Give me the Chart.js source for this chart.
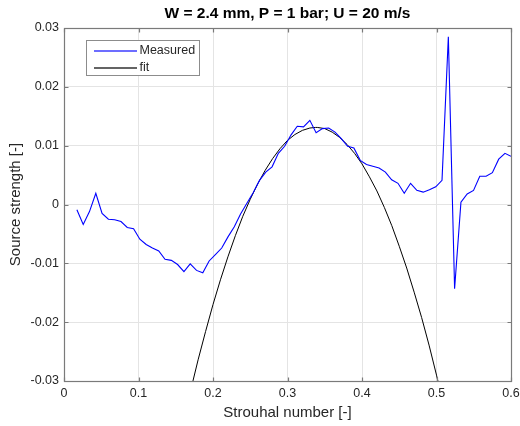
<!DOCTYPE html>
<html>
<head>
<meta charset="utf-8">
<script src="https://cdn.jsdelivr.net/npm/chart.js@4.4.1/dist/chart.umd.min.js"></script>
<style>
  html, body { margin: 0; padding: 0; background: #ffffff; }
  #wrap { width: 520px; height: 426px; }
</style>
</head>
<body>
<div id="wrap"><canvas id="c" width="520" height="426"></canvas></div>
<script>
// Measured source strength vs Strouhal number
const strouhal = [
  0.0173, 0.0258, 0.0342, 0.0427, 0.0511, 0.0596, 0.0680, 0.0765, 0.0849, 0.0934,
  0.1018, 0.1103, 0.1187, 0.1272, 0.1356, 0.1441, 0.1525, 0.1610, 0.1694, 0.1779,
  0.1863, 0.1948, 0.2032, 0.2117, 0.2201, 0.2286, 0.2370, 0.2455, 0.2539, 0.2624,
  0.2708, 0.2793, 0.2877, 0.2962, 0.3046, 0.3131, 0.3215, 0.3300, 0.3384, 0.3469,
  0.3553, 0.3638, 0.3722, 0.3807, 0.3891, 0.3976, 0.4060, 0.4145, 0.4229, 0.4314,
  0.4398, 0.4483, 0.4567, 0.4652, 0.4736, 0.4821, 0.4905, 0.4990, 0.5074, 0.5159,
  0.5243, 0.5328, 0.5412, 0.5497, 0.5581, 0.5666, 0.5750, 0.5835, 0.5919, 0.6000
];
const measured = [
  -0.0009, -0.0034, -0.0012, 0.0019, -0.0015, -0.0025, -0.0026, -0.0029, -0.0039, -0.0041,
  -0.0059, -0.0068, -0.0074, -0.0079, -0.0093, -0.0095, -0.0102, -0.0114, -0.0101, -0.0112,
  -0.0116, -0.0096, -0.0085, -0.0074, -0.0055, -0.0038, -0.0016, 0.0002, 0.0020, 0.0041,
  0.0055, 0.0064, 0.0087, 0.0099, 0.0118, 0.0133, 0.0132, 0.0143, 0.0122, 0.0129,
  0.0130, 0.0123, 0.0112, 0.0099, 0.0096, 0.0075, 0.0068, 0.0065, 0.0062, 0.0055,
  0.0042, 0.0036, 0.0019, 0.0036, 0.0024, 0.0021, 0.0025, 0.0030, 0.0041, 0.0285,
  -0.0143, 0.0004, 0.0018, 0.0024, 0.0048, 0.0048, 0.0054, 0.0077, 0.0087, 0.0082
];

// Parabolic fit, sampled
const fitX = [
  0.17, 0.18, 0.19, 0.20, 0.21, 0.22, 0.23, 0.24, 0.25, 0.26, 0.27, 0.28, 0.29,
  0.30, 0.31, 0.32, 0.33, 0.3375, 0.34, 0.35, 0.36, 0.37, 0.38, 0.39, 0.40,
  0.41, 0.42, 0.43, 0.44, 0.45, 0.46, 0.47, 0.48, 0.49, 0.50, 0.51
];
const fitY = [
  -0.0316, -0.0264, -0.0216, -0.0170, -0.0128, -0.0089, -0.0053, -0.0020, 0.0009, 0.0035,
  0.0058, 0.0078, 0.0095, 0.0109, 0.0119, 0.0126, 0.0130, 0.0131, 0.0131, 0.0129,
  0.0123, 0.0114, 0.0102, 0.0087, 0.0069, 0.0047, 0.0023, -0.0005, -0.0036, -0.0071,
  -0.0108, -0.0149, -0.0192, -0.0239, -0.0290, -0.0343
];

const xTicks = [0, 0.1, 0.2, 0.3, 0.4, 0.5, 0.6];
const xTickLabels = ['0', '0.1', '0.2', '0.3', '0.4', '0.5', '0.6'];
const yTicks = [-0.03, -0.02, -0.01, 0, 0.01, 0.02, 0.03];
const yTickLabels = ['-0.03', '-0.02', '-0.01', '0', '0.01', '0.02', '0.03'];

const titleText = 'W = 2.4 mm, P = 1 bar; U = 20 m/s';
const xTitle = 'Strouhal number [-]';
const yTitle = 'Source strength [-]';
const seriesNames = ['Measured', 'fit'];
const seriesColors = ['#0000ff', '#000000'];
const legendLineColors = ['#3c3cff', '#303030'];

const FONT = '"Liberation Sans", Arial, Helvetica, sans-serif';
const TEXT = '#262626';
const FRAME = '#7a7a7a';
const GRID = '#e4e4e4';

function labelFor(values, labels, v) {
  for (let i = 0; i < values.length; i++) {
    if (Math.abs(values[i] - v) < 1e-9) return labels[i];
  }
  return '';
}

// Title, axes box, inward tick marks and an in-plot legend
const framePlugin = {
  id: 'frame',
  afterDraw(chart) {
    const ctx = chart.ctx;
    const a = chart.chartArea;
    const xs = chart.scales.x, ys = chart.scales.y;
    ctx.save();

    ctx.fillStyle = '#000000';
    ctx.font = 'bold 15.5px ' + FONT;
    ctx.textAlign = 'center';
    ctx.textBaseline = 'middle';
    ctx.fillText(titleText, (a.left + a.right) / 2, 13.5);

    ctx.strokeStyle = FRAME;
    ctx.lineWidth = 1.2;
    const L = Math.round(a.left) + 0.5, R = Math.round(a.right) + 0.5;
    const T = Math.round(a.top) + 0.5, B = Math.round(a.bottom) + 0.5;
    ctx.strokeRect(L, T, R - L, B - T);
    const tl = 4;
    ctx.beginPath();
    xTicks.forEach(v => {
      const px = Math.round(xs.getPixelForValue(v)) + 0.5;
      ctx.moveTo(px, B); ctx.lineTo(px, B - tl);
      ctx.moveTo(px, T); ctx.lineTo(px, T + tl);
    });
    yTicks.forEach(v => {
      const py = Math.round(ys.getPixelForValue(v)) + 0.5;
      ctx.moveTo(L, py); ctx.lineTo(L + tl, py);
      ctx.moveTo(R, py); ctx.lineTo(R - tl, py);
    });
    ctx.stroke();

    // legend
    const bx = 86.5, by = 40.5, bw = 113, bh = 35;
    ctx.fillStyle = '#ffffff';
    ctx.fillRect(bx, by, bw, bh);
    ctx.strokeStyle = '#8c8c8c';
    ctx.lineWidth = 1;
    ctx.strokeRect(bx, by, bw, bh);
    ctx.font = '12.5px ' + FONT;
    ctx.textBaseline = 'middle';
    ctx.textAlign = 'left';
    seriesNames.forEach((name, i) => {
      const y = by + 10.5 + i * 17;
      ctx.strokeStyle = legendLineColors[i];
      ctx.lineWidth = 1.3;
      ctx.beginPath();
      ctx.moveTo(94, y); ctx.lineTo(137, y);
      ctx.stroke();
      ctx.fillStyle = TEXT;
      ctx.fillText(name, 139.5, y);
    });
    ctx.restore();
  }
};

new Chart(document.getElementById('c'), {
  type: 'line',
  data: {
    datasets: [
      {
        label: seriesNames[0],
        data: strouhal.map((x, i) => ({ x: x, y: measured[i] })),
        borderColor: seriesColors[0],
        borderWidth: 1.1,
        pointRadius: 0,
        tension: 0,
        fill: false
      },
      {
        label: seriesNames[1],
        data: fitX.map((x, i) => ({ x: x, y: fitY[i] })),
        borderColor: seriesColors[1],
        borderWidth: 1,
        pointRadius: 0,
        tension: 0,
        fill: false
      }
    ]
  },
  options: {
    responsive: false,
    animation: false,
    events: [],
    layout: { padding: { left: 0, right: 9, top: 28, bottom: 0 } },
    plugins: {
      legend: { display: false },
      tooltip: { enabled: false },
      title: { display: false }
    },
    scales: {
      x: {
        type: 'linear',
        min: 0, max: 0.6,
        afterBuildTicks: s => { s.ticks = xTicks.map(v => ({ value: v })); },
        afterFit: s => { s.height = 45; s.paddingLeft = 0; s.paddingRight = 0; },
        grid: { color: GRID, lineWidth: 1, drawTicks: false, tickLength: 0 },
        border: { display: false },
        ticks: {
          color: TEXT,
          padding: 5,
          maxRotation: 0,
          autoSkip: false,
          font: { family: FONT, size: 12.5 },
          callback: v => labelFor(xTicks, xTickLabels, v)
        },
        title: {
          display: true,
          text: xTitle,
          color: TEXT,
          font: { family: FONT, size: 15 },
          padding: { top: 4, bottom: 4 }
        }
      },
      y: {
        type: 'linear',
        min: -0.03, max: 0.03,
        afterBuildTicks: s => { s.ticks = yTicks.map(v => ({ value: v })); },
        afterFit: s => { s.width = 64; s.paddingTop = 0; s.paddingBottom = 0; },
        grid: { color: GRID, lineWidth: 1, drawTicks: false, tickLength: 0 },
        border: { display: false },
        ticks: {
          color: TEXT,
          padding: 5,
          autoSkip: false,
          font: { family: FONT, size: 12.5 },
          callback: v => labelFor(yTicks, yTickLabels, v)
        },
        title: {
          display: true,
          text: yTitle,
          color: TEXT,
          font: { family: FONT, size: 15 },
          padding: { top: 7, bottom: 4 }
        }
      }
    }
  },
  plugins: [framePlugin]
});
</script>
</body>
</html>
